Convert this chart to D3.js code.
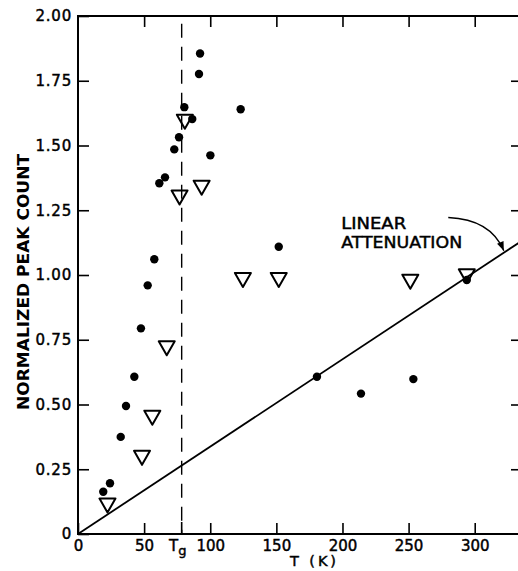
<!DOCTYPE html>
<html>
<head>
<meta charset="utf-8">
<script src="https://cdn.jsdelivr.net/npm/d3@7"></script>
<style>
  html, body { margin: 0; padding: 0; background: #fff; }
  svg { display: block; }
  text { font-family: "DejaVu Sans", sans-serif; fill: #000; }
  .heavy { stroke: #000; stroke-width: 0.45px; }
</style>
</head>
<body>
<svg id="chart" width="518" height="571"></svg>
<script>
// ---- data ----
const dotT = [19.1, 24.2, 32.3, 36.3, 42.6, 47.6, 52.7, 57.7, 61.5, 65.8, 72.8, 76.4, 80.4, 86.4, 91.5, 92.3, 100.1, 123.0, 151.8, 180.7, 214.0, 253.6, 294];
const dotV = [0.163, 0.196, 0.375, 0.494, 0.607, 0.794, 0.960, 1.061, 1.354, 1.377, 1.485, 1.532, 1.648, 1.602, 1.776, 1.855, 1.462, 1.640, 1.109, 0.607, 0.542, 0.598, 0.981];
const triT = [22.3, 48.4, 56.2, 67.1, 76.8, 80.8, 93.5, 124.7, 151.8, 251.3, 294];
const triV = [0.110, 0.294, 0.449, 0.717, 1.299, 1.592, 1.337, 0.981, 0.981, 0.974, 0.995];
const lineT = [0, 335];
const lineV = [0, 1.130];
const Tg = 78.4;
const xTicks = [0, 50, 100, 150, 200, 250, 300];
const yTicks = [0, 0.25, 0.5, 0.75, 1.0, 1.25, 1.5, 1.75, 2.0];
const xTitle = "T  (K)";
const yTitle = "NORMALIZED PEAK COUNT";
const annotLines = ["LINEAR", "ATTENUATION"];

// ---- layout ----
const mLeft = 78, mTop = 16, mRight = 521, mBottom = 534;
const svg = d3.select("#chart");
const x = d3.scaleLinear().domain([0, 335]).range([mLeft, mRight]);
const y = d3.scaleLinear().domain([0, 2]).range([mBottom, mTop]);

// frame
svg.append("rect")
  .attr("x", mLeft).attr("y", mTop)
  .attr("width", mRight - mLeft).attr("height", mBottom - mTop)
  .attr("fill", "none").attr("stroke", "#000").attr("stroke-width", 2);

// bottom axis
const gx = svg.append("g").attr("transform", `translate(0,${mBottom})`)
  .call(d3.axisBottom(x).tickValues(xTicks).tickSizeInner(-11).tickSizeOuter(0).tickPadding(6)
    .tickFormat(d => String(d)));
gx.select(".domain").remove();
gx.selectAll("line").attr("stroke-width", 1.6);
gx.selectAll("text").attr("class", "heavy").style("font-size", "15px").attr("fill", "#000");

// top axis (ticks only)
const gt = svg.append("g").attr("transform", `translate(0,${mTop})`)
  .call(d3.axisTop(x).tickValues(xTicks.slice(1)).tickSizeInner(-11).tickSizeOuter(0).tickFormat(""));
gt.select(".domain").remove();
gt.selectAll("line").attr("stroke-width", 1.6);

// left axis
const gy = svg.append("g").attr("transform", `translate(${mLeft},0)`)
  .call(d3.axisLeft(y).tickValues(yTicks).tickSizeInner(-11).tickSizeOuter(0).tickPadding(6)
    .tickFormat(d => d === 0 ? "0" : d.toFixed(2)));
gy.select(".domain").remove();
gy.selectAll("line").attr("stroke-width", 1.6);
gy.selectAll("text").attr("class", "heavy").style("font-size", "15px").style("letter-spacing", "0.8px").attr("fill", "#000");

// right axis (ticks only)
const gr = svg.append("g").attr("transform", `translate(${mRight},0)`)
  .call(d3.axisRight(y).tickValues(yTicks.slice(1, -1)).tickSizeInner(-10).tickSizeOuter(0).tickFormat(""));
gr.select(".domain").remove();
gr.selectAll("line").attr("stroke-width", 1.6);

// Tg dashed line
svg.append("line")
  .attr("x1", x(Tg)).attr("x2", x(Tg))
  .attr("y1", y(1.97)).attr("y2", y(0))
  .attr("stroke", "#000").attr("stroke-width", 1.4)
  .attr("stroke-dasharray", "14,9");
svg.append("line")
  .attr("x1", x(Tg)).attr("x2", x(Tg))
  .attr("y1", y(0) - 12).attr("y2", y(0))
  .attr("stroke", "#000").attr("stroke-width", 1.6);
const tgLabel = svg.append("text")
  .attr("class", "heavy")
  .attr("x", x(Tg) - 4).attr("y", mBottom + 6).attr("dy", "0.71em")
  .attr("text-anchor", "middle").style("font-size", "15px");
tgLabel.append("tspan").text("T");
tgLabel.append("tspan").attr("dy", "4").style("font-size", "13px").text("g");

// linear attenuation line
const lineData = lineT.map((t, i) => [t, lineV[i]]);
svg.append("path")
  .datum(lineData)
  .attr("d", d3.line().x(d => x(d[0])).y(d => y(d[1])))
  .attr("fill", "none").attr("stroke", "#000").attr("stroke-width", 1.8);

// triangles (open, inverted)
const triPath = "M-8,-7L8,-7L0,7Z";
svg.append("g").selectAll("path")
  .data(triT.map((t, i) => [t, triV[i]]))
  .join("path")
  .attr("d", triPath)
  .attr("transform", d => `translate(${x(d[0])},${y(d[1])})`)
  .attr("fill", "none").attr("stroke", "#000").attr("stroke-width", 2).attr("stroke-linejoin", "round");

// dots
svg.append("g").selectAll("circle")
  .data(dotT.map((t, i) => [t, dotV[i]]))
  .join("circle")
  .attr("cx", d => x(d[0])).attr("cy", d => y(d[1]))
  .attr("r", 4.2).attr("fill", "#000");

// annotation
svg.append("text")
  .attr("class", "heavy")
  .attr("x", x(199)).attr("y", y(1.178))
  .style("font-size", "15.5px").attr("textLength", 65).attr("lengthAdjust", "spacingAndGlyphs")
  .text(annotLines[0]);
svg.append("text")
  .attr("class", "heavy")
  .attr("x", x(199)).attr("y", y(1.104))
  .style("font-size", "15.5px").attr("textLength", 121).attr("lengthAdjust", "spacingAndGlyphs")
  .text(annotLines[1]);

// curved arrow
const p0 = [x(280), y(1.222)], pc = [x(312), y(1.215)], p1 = [x(322), y(1.094)];
const arrow = d3.path();
arrow.moveTo(p0[0], p0[1]);
arrow.quadraticCurveTo(pc[0], pc[1], p1[0], p1[1]);
svg.append("path").attr("d", arrow.toString())
  .attr("fill", "none").attr("stroke", "#000").attr("stroke-width", 1.3);
// arrowhead
const ang = Math.atan2(p1[1] - pc[1], p1[0] - pc[0]);
const hl = 9, hw = 3.5;
const hx = p1[0] - hl * Math.cos(ang), hy = p1[1] - hl * Math.sin(ang);
svg.append("path")
  .attr("d", `M${p1[0]},${p1[1]}L${hx - hw * Math.sin(ang)},${hy + hw * Math.cos(ang)}L${hx + hw * Math.sin(ang)},${hy - hw * Math.cos(ang)}Z`)
  .attr("fill", "#000");

// axis titles
svg.append("text")
  .attr("class", "heavy")
  .attr("x", 313).attr("y", 566).attr("text-anchor", "middle")
  .style("font-size", "14.5px").attr("textLength", 46).attr("lengthAdjust", "spacing")
  .text(xTitle);
svg.append("text")
  .attr("transform", `translate(29,282) rotate(-90)`)
  .attr("text-anchor", "middle")
  .style("font-size", "15.5px").style("font-weight", "bold")
  .attr("textLength", 256).attr("lengthAdjust", "spacingAndGlyphs")
  .text(yTitle);
</script>
</body>
</html>
